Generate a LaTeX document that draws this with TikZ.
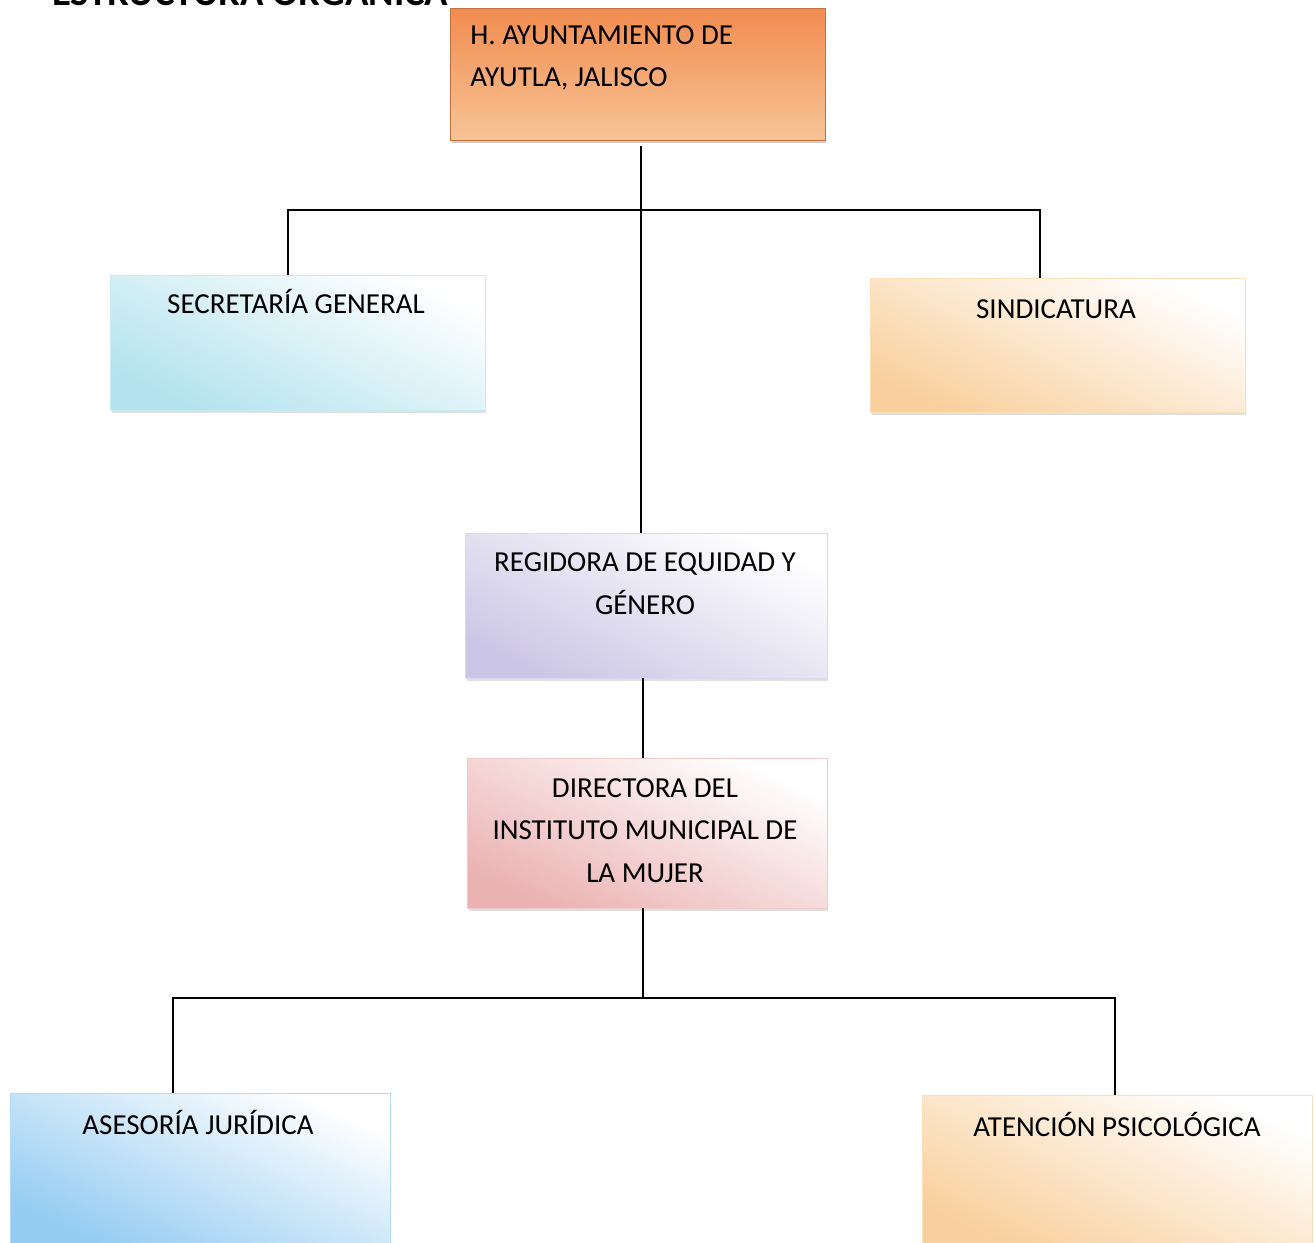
\documentclass[tikz,border=0pt]{standalone}
\usepackage{fontspec}
\setmainfont{Carlito}
\usetikzlibrary{shadows}

\definecolor{colayto}{RGB}{241,140,80}
\definecolor{colaytoclaro}{RGB}{247,196,150}
\definecolor{colsecre}{RGB}{165,222,235}
\definecolor{colsindi}{RGB}{248,200,140}
\definecolor{colregid}{RGB}{195,188,225}
\definecolor{coldirec}{RGB}{232,165,165}
\definecolor{colaseso}{RGB}{130,195,240}
\definecolor{colatenc}{RGB}{248,200,140}

\begin{document}
\begin{tikzpicture}[x=0.02cm, y=-0.02cm,
    caja/.style={rectangle, inner sep=0pt, draw=#1!60!white, line width=0.3pt,
      bottom color=#1!85!white, middle color=white, top color=white, shading angle=-25,
      drop shadow={shadow xshift=0.3mm, shadow yshift=-0.6mm, opacity=0.25}},
    cajatop/.style={rectangle, inner sep=0pt, draw=colayto!80!black, line width=0.4pt,
      top color=colayto, middle color=colayto!80!white, bottom color=colaytoclaro,
      drop shadow={shadow xshift=0.3mm, shadow yshift=-0.7mm, opacity=0.4}},
    texto/.style={font=\fontsize{16.5}{24}\selectfont, align=center, anchor=base, inner sep=0pt},
    linea/.style={line width=0.7pt}]
    \useasboundingbox (0,0) rectangle (1314,1243);

    % titulo (cortado arriba)
    \node[font=\fontsize{22}{26}\selectfont\bfseries, anchor=base west, inner sep=0pt] (titulo) at (52,6) {ESTRUCTURA ORGÁNICA};

    % cajas (el texto va anclado a la base de su ultima linea)
    \node[cajatop, minimum width=7.5cm, minimum height=2.64cm] (ayto) at (637.5,74) {};
    \node[texto, anchor=base west, align=left] (ayto-t) at (470,87) {H. AYUNTAMIENTO DE\\AYUTLA, JALISCO};

    \node[caja=colsecre, minimum width=7.5cm, minimum height=2.7cm] (secre) at (297.5,342.5) {};
    \node[texto] (secre-t) at (296,314) {SECRETARÍA GENERAL};

    \node[caja=colsindi, minimum width=7.5cm, minimum height=2.68cm] (sindi) at (1057.5,345) {};
    \node[texto] (sindi-t) at (1056,318) {SINDICATURA};

    \node[caja=colregid, minimum width=7.24cm, minimum height=2.9cm] (regid) at (646,605.5) {};
    \node[texto] (regid-t) at (645,614) {REGIDORA DE EQUIDAD Y\\GÉNERO};

    \node[caja=coldirec, minimum width=7.2cm, minimum height=3cm] (direc) at (647,833) {};
    \node[texto] (direc-t) at (645,882) {DIRECTORA DEL\\INSTITUTO MUNICIPAL DE\\LA MUJER};

    \node[caja=colaseso, minimum width=7.6cm, minimum height=3cm] (aseso) at (200,1168) {};
    \node[texto] (aseso-t) at (198,1134) {ASESORÍA JURÍDICA};

    \node[caja=colatenc, minimum width=7.8cm, minimum height=3cm] (atenc) at (1117,1170) {};
    \node[texto] (atenc-t) at (1117,1136) {ATENCIÓN PSICOLÓGICA};

    % lineas
    \coordinate (b1) at (641,210);
    \coordinate (b1i) at (288,210);
    \coordinate (b1d) at (1040,210);
    \draw[linea] ([yshift=-0.12cm]ayto.south -| b1) -- (b1 |- regid.north);
    \draw[linea] (b1i |- secre.north) -- (b1i) -- (b1d) -- (b1d |- sindi.north);
    \coordinate (b2) at (643,998);
    \coordinate (b2i) at (173,998);
    \coordinate (b2d) at (1115,998);
    \draw[linea] (regid.south -| b2) -- (b2 |- direc.north);
    \draw[linea] (direc.south -| b2) -- (b2);
    \draw[linea] (b2i |- aseso.north) -- (b2i) -- (b2d) -- (b2d |- atenc.north);
\end{tikzpicture}
\end{document}
